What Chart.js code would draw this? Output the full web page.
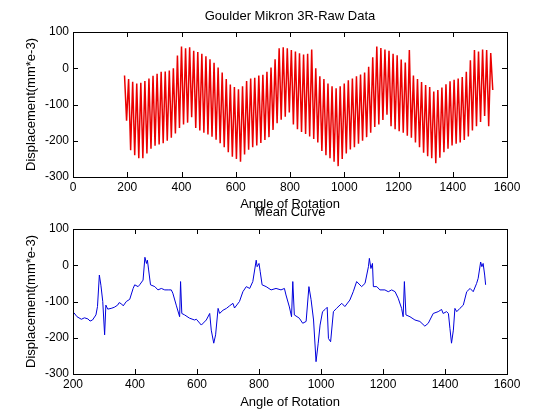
<!DOCTYPE html>
<html>
<head>
<meta charset="utf-8">
<title>Goulder Mikron 3R</title>
<script src="https://cdn.jsdelivr.net/npm/chart.js@4.4.0/dist/chart.umd.min.js"></script>
<style>
body { margin: 0; background: #fff; }
#wrap { position: relative; width: 560px; height: 420px; }
#wrap canvas { position: absolute; left: 0; }
#rawChart { top: 0; }
#meanChart { top: 195px; }
</style>
</head>
<body>
<div id="wrap">
	<canvas id="rawChart" width="560" height="215"></canvas>
	<canvas id="meanChart" width="560" height="225"></canvas>
</div>
<script>
// raw data: peaks and troughs of each revolution stroke
var rawStart = 190, rawStep = 15;
var rawPeaks = [-20,-30,-37,-42,-40,-35,-28,-21,-15,-10,
	-9,-6,0,35,60,55,58,48,45,40,
	33,25,15,2,-12,-30,-45,-52,-58,-50,
	-35,-28,-26,-20,-18,-10,2,25,55,58,
	55,50,46,41,38,40,52,0,-22,-30,
	-42,-50,-55,-50,-42,-33,-28,-22,-17,-12,
	4,30,60,56,52,48,40,36,24,16,
	50,-20,-30,-38,-46,-52,-64,-60,-53,-44,
	-36,-32,-28,-24,-10,22,50,46,52,50,
	42];
var rawTroughs = [-145,-226,-240,-248,-248,-235,-222,-214,-210,-207,
	-200,-192,-180,-165,-155,-150,-135,-165,-172,-178,
	-183,-189,-197,-207,-218,-232,-244,-250,-258,-238,
	-225,-218,-213,-206,-198,-190,-170,-152,-142,-134,
	-122,-155,-168,-176,-181,-188,-195,-205,-228,-240,
	-248,-258,-270,-250,-235,-224,-218,-208,-200,-190,
	-178,-162,-155,-143,-128,-160,-168,-174,-178,-186,
	-192,-205,-218,-233,-243,-248,-262,-247,-232,-222,
	-213,-208,-205,-198,-188,-172,-160,-148,-132,-160,
	-60];

// mean curve
var meanAngle = [203,213,227,237,248,255,263,274,279,285,290,296,302,306,312,323,333,344,349,
	357,362,372,383,394,399,410,415,426,432,437,440,444,450,464,474,485,496,507,517,522,533,
	544,547,551,560,576,592,598,614,630,641,646,654,660,668,673,684,695,705,716,721,737,748,
	759,770,780,791,794,800,804,810,823,839,855,871,882,887,898,905,909,914,930,941,952,961,
	968,976,984,991,997,1005,1013,1020,1024,1031,1040,1050,1067,1077,1093,1104,1115,1131,1142,
	1153,1156,1161,1166,1169,1180,1190,1206,1217,1228,1239,1249,1260,1265,1269,1274,1287,1303,
	1319,1335,1346,1362,1378,1389,1394,1405,1411,1416,1421,1427,1432,1438,1448,1459,1470,1481,
	1491,1502,1507,1515,1519,1523,1528,1531];
var meanValue = [-131,-142,-149,-145,-148,-154,-151,-137,-114,-27,-55,-100,-192,-110,-121,-119,-116,-110,-103,
	-107,-112,-100,-94,-64,-54,-59,-54,-41,22,5,14,-13,-54,-59,-68,-64,-68,-68,-68,-77,-110,
	-142,-45,-133,-137,-146,-151,-149,-165,-151,-133,-179,-215,-192,-119,-133,-124,-119,-112,-105,-118,-100,-73,
	-59,-64,-45,14,-4,5,-18,-54,-59,-68,-64,-68,-64,-82,-115,-142,-45,-137,-146,-160,-155,-59,
	-95,-151,-266,-215,-165,-128,-122,-116,-202,-211,-128,-119,-105,-114,-96,-73,-45,-59,-50,
	-4,19,-9,5,-59,-59,-68,-68,-73,-68,-73,-91,-119,-142,-45,-137,-142,-151,
	-155,-168,-160,-133,-128,-122,-133,-128,-133,-175,-215,-179,-119,-128,-119,-110,-73,-64,
	-73,-50,-36,9,-4,5,-27,-54];

var yTicks = [-300,-200,-100,0,100];
var rawXTicks = [0,200,400,600,800,1000,1200,1400,1600];
var meanXTicks = [200,400,600,800,1000,1200,1400,1600];

var rawPoints = [];
for (var i = 0; i < rawPeaks.length; i++) {
	rawPoints.push({x: rawStart + i * rawStep, y: rawPeaks[i]});
	rawPoints.push({x: rawStart + i * rawStep + rawStep / 2, y: rawTroughs[i]});
}
var meanPoints = meanAngle.map(function (a, i) { return {x: a, y: meanValue[i]}; });

Chart.defaults.font.family = '"Liberation Sans", Arial, sans-serif';
Chart.defaults.font.size = 12;
Chart.defaults.color = '#000';

// matlab style box with inward ticks
var boxPlugin = {
	id: 'box',
	afterDatasetsDraw: function (chart) {
		var a = chart.chartArea, ctx = chart.ctx, xs = chart.scales.x, ys = chart.scales.y;
		ctx.save();
		ctx.strokeStyle = '#000';
		ctx.lineWidth = 1;
		ctx.beginPath();
		xs.ticks.forEach(function (t) {
			var px = Math.round(xs.getPixelForValue(t.value)) + 0.5;
			ctx.moveTo(px, a.bottom); ctx.lineTo(px, a.bottom - 5);
			ctx.moveTo(px, a.top); ctx.lineTo(px, a.top + 5);
		});
		ys.ticks.forEach(function (t) {
			var py = Math.round(ys.getPixelForValue(t.value)) + 0.5;
			ctx.moveTo(a.left, py); ctx.lineTo(a.left + 5, py);
			ctx.moveTo(a.right, py); ctx.lineTo(a.right - 5, py);
		});
		ctx.stroke();
		ctx.strokeRect(Math.round(a.left) + 0.5, Math.round(a.top) + 0.5, Math.round(a.right - a.left), Math.round(a.bottom - a.top));
		ctx.restore();
	}
};

function plainLabel(v) { return String(v); }

function panel(id, title, points, color, width, xTicks, titlePad, xAxisH, xTitlePad) {
	return new Chart(document.getElementById(id), {
		type: 'line',
		data: {
			datasets: [{
				data: points,
				borderColor: color,
				borderWidth: width,
				pointRadius: 0,
				tension: 0,
				fill: false
			}]
		},
		options: {
			responsive: false,
			animation: false,
			layout: { padding: { left: 0, right: 53, top: 0, bottom: 0 } },
			plugins: {
				legend: { display: false },
				tooltip: { enabled: false },
				title: {
					display: true,
					text: title,
					fullSize: false,
					font: { size: 13, weight: 'normal' },
					color: '#000',
					padding: titlePad
				}
			},
			scales: {
				x: {
					type: 'linear',
					min: xTicks[0],
					max: xTicks[xTicks.length - 1],
					afterBuildTicks: function (s) { s.ticks = xTicks.map(function (v) { return {value: v}; }); },
					afterFit: function (s) { s.height = xAxisH; s.paddingLeft = 0; s.paddingRight = 0; },
					grid: { display: false, drawTicks: false },
					border: { display: false },
					ticks: { padding: 3, maxRotation: 0, font: { size: 12 }, callback: plainLabel },
					title: { display: true, text: 'Angle of Rotation', font: { size: 13 }, padding: { top: 0, bottom: xTitlePad } }
				},
				y: {
					min: -300,
					max: 100,
					afterBuildTicks: function (s) { s.ticks = yTicks.map(function (v) { return {value: v}; }); },
					afterFit: function (s) { s.width = 73; s.paddingTop = 0; s.paddingBottom = 0; },
					grid: { display: false, drawTicks: false },
					border: { display: false },
					ticks: { padding: 4, font: { size: 12 }, callback: plainLabel },
					title: { display: true, text: 'Displacement(mm*e-3)', font: { size: 13 }, padding: { top: 24, bottom: 0 } }
				}
			}
		},
		plugins: [boxPlugin]
	});
}

panel('rawChart', 'Goulder Mikron 3R-Raw Data', rawPoints, 'rgb(235,0,0)', 1.5, rawXTicks, { top: 8.2, bottom: 8.2 }, 38, 3.2);
panel('meanChart', 'Mean Curve', meanPoints, 'rgb(0,0,220)', 1, meanXTicks, { top: 9.2, bottom: 9.2 }, 46, 10.2);
</script>
</body>
</html>
